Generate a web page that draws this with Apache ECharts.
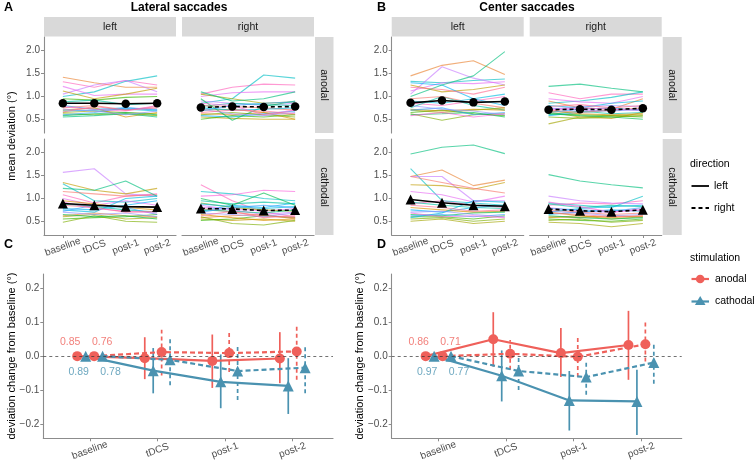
<!DOCTYPE html>
<html><head><meta charset="utf-8">
<script src="https://cdn.jsdelivr.net/npm/echarts@6/dist/echarts.min.js"></script>
<style>html,body{margin:0;padding:0;background:#fff}#c{width:755px;height:469px}</style>
</head><body><div id="c"></div>
<script>
// ---------- DATA ----------
const categories = ['baseline', 'tDCS', 'post-1', 'post-2'];
const subjectColors = ['#EA8331','#FF62BC','#00BFC4','#C77CFF','#E76BF3','#C09B00','#39B600','#00C1A3','#00B0F6','#F8766D',
  '#D89000','#A3A500','#7CAE00','#00BB4E','#00BF7D','#00BAE0','#35A2FF','#9590FF','#FA62DB','#FF6C91'];

// Panel A: lateral saccades, individual subjects (mean deviation, deg)
const latLeftAnodal = [
  [1.42,1.30,1.20,1.20],[1.32,1.20,1.35,1.25],[1.00,1.10,1.33,1.45],[1.05,1.25,1.35,1.10],[1.22,1.02,1.05,1.05],
  [1.12,0.95,1.05,1.18],[0.95,0.92,0.98,1.00],[0.88,0.92,0.82,0.85],[0.80,0.72,0.75,0.70],[0.75,0.80,0.70,0.78],
  [0.70,0.75,0.55,0.65],[0.65,0.68,0.65,0.62],[0.62,0.60,0.62,0.58],[0.58,0.62,0.65,0.60],[0.55,0.58,0.62,0.55],
  [0.68,0.70,0.72,0.68],[0.60,0.65,0.75,0.72],[0.72,0.68,0.60,0.68],[0.78,0.72,0.68,0.80],[0.66,0.78,0.70,0.75]];
const latRightAnodal = [
  [0.62,0.60,0.65,0.60],[1.05,1.20,1.27,1.25],[0.85,0.95,1.47,1.40],[0.90,0.85,0.80,0.85],[1.00,1.08,1.10,1.10],
  [0.55,0.52,0.50,0.50],[0.50,0.58,0.55,0.60],[0.78,0.85,0.82,0.80],[0.58,0.55,0.62,0.68],[0.80,0.78,0.75,0.70],
  [0.70,0.72,0.65,0.50],[1.05,0.95,0.85,0.88],[0.60,0.65,0.60,0.55],[0.95,0.48,0.78,0.90],[1.10,0.90,0.95,1.10],
  [0.75,0.70,0.72,0.75],[0.68,0.80,0.85,0.88],[0.72,0.62,0.58,0.65],[0.85,0.80,0.60,0.70],[0.65,0.70,0.68,0.62]];
const latLeftCathodal = [
  [0.62,0.68,0.62,0.60],[1.08,0.90,1.05,1.10],[1.32,0.95,0.92,1.00],[1.57,1.65,1.10,1.05],[1.00,0.85,0.95,0.85],
  [1.35,1.18,1.10,1.22],[0.55,0.58,0.60,0.65],[0.88,0.82,0.75,0.70],[0.78,0.75,0.85,0.95],[1.15,1.10,1.05,1.08],
  [0.95,0.88,0.80,0.75],[0.60,0.65,0.55,0.58],[0.48,0.62,0.50,0.48],[0.65,0.60,0.62,0.55],[1.22,1.18,1.38,1.05],
  [0.75,0.70,1.00,1.05],[0.72,0.85,0.80,0.65],[0.70,0.65,0.68,0.60],[0.92,0.78,0.72,0.68],[0.85,0.80,0.70,0.72]];
const latRightCathodal = [
  [0.58,0.62,0.65,0.55],[1.30,0.95,0.70,0.60],[1.15,1.10,1.00,0.95],[0.85,0.75,0.65,0.70],[0.80,0.78,0.72,0.78],
  [0.55,0.52,0.55,0.50],[0.52,0.55,0.62,0.58],[0.95,0.88,0.92,0.88],[0.72,0.85,0.80,0.90],[0.78,0.70,0.62,0.58],
  [0.65,0.58,0.52,0.55],[0.90,0.80,0.75,0.72],[0.60,0.45,0.42,0.52],[1.00,0.85,1.12,0.85],[0.75,0.72,0.68,0.75],
  [0.88,0.82,0.78,0.82],[0.70,0.80,0.85,0.80],[0.68,0.65,0.60,0.68],[1.05,1.08,1.18,1.15],[0.62,0.72,0.58,0.62]];
const latLeftAnodalMean = [0.85, 0.85, 0.84, 0.85];
const latRightAnodalMean = [0.76, 0.78, 0.77, 0.78];
const latLeftCathodalMean = [0.89, 0.85, 0.82, 0.81];
const latRightCathodalMean = [0.78, 0.77, 0.735, 0.745];

// Panel B: center saccades, individual subjects
const cenLeftAnodal = [
  [1.45,1.68,1.78,1.48],[0.85,0.80,0.90,1.00],[1.33,1.30,1.35,1.38],[1.05,1.65,1.40,1.25],[1.12,1.30,1.28,1.32],
  [1.25,1.10,1.15,1.25],[0.65,0.70,0.62,0.58],[0.75,1.00,0.80,0.70],[1.30,1.25,0.95,0.80],[0.95,1.00,0.85,0.75],
  [0.72,0.68,0.72,0.70],[0.70,0.65,0.70,0.75],[0.62,0.48,0.60,0.62],[0.60,0.62,0.65,0.55],[1.00,1.25,1.45,1.98],
  [0.90,0.85,0.95,1.05],[0.70,0.75,0.60,0.65],[0.80,0.72,0.68,0.60],[0.58,0.65,0.55,0.62],[1.20,1.15,1.05,1.20]];
const cenRightAnodal = [
  [0.90,0.75,0.72,0.95],[1.08,0.95,1.05,1.05],[0.85,0.90,0.98,1.10],[0.75,0.70,0.68,0.72],[0.95,0.88,0.85,1.00],
  [0.66,0.55,0.52,0.65],[0.62,0.60,0.58,0.55],[0.60,0.68,0.62,0.65],[0.58,0.65,0.70,0.72],[0.70,0.65,0.70,0.75],
  [0.68,0.62,0.60,0.62],[0.40,0.55,0.58,0.60],[0.55,0.52,0.55,0.58],[0.62,0.58,0.55,0.50],[1.22,1.27,1.18,1.10],
  [0.80,0.75,0.85,0.90],[0.65,0.72,0.75,0.68],[0.72,0.78,0.80,0.78],[0.70,0.75,0.72,0.70],[0.78,0.82,0.75,0.80]];
const cenLeftCathodal = [
  [1.48,1.62,1.28,1.40],[0.88,0.95,0.85,0.80],[1.65,0.95,0.90,0.85],[1.48,1.48,0.95,0.95],[1.15,1.08,0.92,1.05],
  [1.30,1.28,1.20,1.35],[0.60,0.60,0.55,0.62],[0.92,0.85,0.80,0.78],[0.75,0.70,0.80,0.85],[1.48,1.35,1.22,1.12],
  [0.80,0.75,0.70,0.72],[0.50,0.55,0.45,0.50],[0.55,0.58,0.50,0.55],[0.65,0.62,0.68,0.70],[1.97,2.12,2.17,1.98],
  [0.58,0.68,0.95,0.92],[0.62,0.65,0.60,0.65],[0.70,0.72,0.65,0.60],[0.68,0.60,0.62,0.58],[0.85,0.80,0.72,0.75]];
const cenRightCathodal = [
  [0.60,0.58,0.62,0.60],[0.85,0.90,0.88,0.95],[0.90,0.85,0.80,1.05],[1.05,0.95,0.90,0.88],[0.80,0.72,0.70,0.78],
  [0.58,0.62,0.55,0.60],[0.55,0.52,0.50,0.55],[0.88,0.80,0.85,0.82],[0.65,0.70,0.75,0.72],[0.75,0.70,0.65,0.68],
  [0.70,0.62,0.58,0.62],[0.48,0.45,0.38,0.45],[0.52,0.55,0.48,0.52],[0.62,0.58,0.55,0.58],[1.52,1.38,1.30,1.23],
  [0.70,0.78,0.82,0.85],[0.78,0.75,0.72,0.80],[0.72,0.68,0.62,0.65],[0.92,0.82,0.70,0.75],[0.68,0.65,0.60,0.62]];
const cenLeftAnodalMean = [0.86, 0.91, 0.87, 0.89];
const cenRightAnodalMean = [0.71, 0.72, 0.71, 0.74];
const cenLeftCathodalMean = [0.975, 0.905, 0.85, 0.83];
const cenRightCathodalMean = [0.77, 0.73, 0.71, 0.75];

// Panel C: lateral, change from baseline (mean, low, high)
const latAnLeft = [0, -0.006, -0.014, -0.007];
const latAnLeftLo = [0, -0.068, -0.094, -0.080];
const latAnLeftHi = [0, 0.056, 0.064, 0.071];
const latCaLeft = [0, -0.043, -0.076, -0.088];
const latCaLeftLo = [0, -0.110, -0.154, -0.171];
const latCaLeftHi = [0, 0.024, 0.005, -0.006];
const latAnRight = [0, 0.012, 0.009, 0.014];
const latAnRightLo = [0, -0.057, -0.047, -0.070];
const latAnRightHi = [0, 0.078, 0.073, 0.093];
const latCaRight = [0, -0.011, -0.044, -0.034];
const latCaRightLo = [0, -0.086, -0.130, -0.110];
const latCaRightHi = [0, 0.058, 0.033, 0.033];
const latBaselineLabels = ['0.85', '0.89', '0.76', '0.78'];

// Panel D: center, change from baseline
const cenAnLeft = [0, 0.050, 0.009, 0.033];
const cenAnLeftLo = [0, -0.031, -0.062, -0.070];
const cenAnLeftHi = [0, 0.130, 0.083, 0.134];
const cenCaLeft = [0, -0.058, -0.131, -0.134];
const cenCaLeftLo = [0, -0.134, -0.220, -0.233];
const cenCaLeftHi = [0, 0.017, -0.044, -0.040];
const cenAnRight = [0, 0.007, -0.002, 0.035];
const cenAnRightLo = [0, -0.040, -0.062, -0.016];
const cenAnRightHi = [0, 0.048, 0.060, 0.100];
const cenCaRight = [0, -0.044, -0.062, -0.019];
const cenCaRightLo = [0, -0.100, -0.114, -0.082];
const cenCaRightHi = [0, 0.004, -0.014, 0.038];
const cenBaselineLabels = ['0.86', '0.97', '0.71', '0.77'];

// ---------- CHART ----------
const FONT = '"Liberation Sans", Arial, Helvetica, sans-serif';
const AXC = '#8c8c8c', TXC = '#4d4d4d';
const RED = '#EF605A', BLUE = '#4A92B0';
const grids = [], xAxes = [], yAxes = [], series = [], graphics = [];

function fmtNum(v) {
  const r = Math.round(v * 10) / 10;
  if (r === 0) return '0.0';
  return (r < 0 ? '\u2212' : '') + Math.abs(r).toFixed(1);
}

function addGrid(box, xr, yr, yTicks, showX, showY) {
  const idx = grids.length;
  grids.push({left: box[0], top: box[1], width: box[2], height: box[3]});
  xAxes.push({gridIndex: idx, type: 'value', min: xr[0], max: xr[1], position: 'bottom',
    axisLine: {show: showX, onZero: false, lineStyle: {color: AXC, width: 1.1}},
    axisTick: {show: showX, customValues: [0, 1, 2, 3], length: 3, lineStyle: {color: AXC}},
    axisLabel: {show: showX, customValues: [0, 1, 2, 3], formatter: v => categories[Math.round(v)],
      rotate: 20, align: 'center', verticalAlign: 'middle', margin: 12, color: TXC, fontSize: 10, fontFamily: FONT},
    splitLine: {show: false}});
  yAxes.push({gridIndex: idx, type: 'value', min: yr[0], max: yr[1], position: 'left',
    axisLine: {show: showY, onZero: false, lineStyle: {color: AXC, width: 1.1}},
    axisTick: {show: showY, customValues: yTicks, length: 3, lineStyle: {color: AXC}},
    axisLabel: {show: showY, customValues: yTicks, formatter: fmtNum, margin: 4, color: TXC, fontSize: 10, fontFamily: FONT},
    splitLine: {show: false}});
  return idx;
}

function addFacet(box, showX, showY, rows, mean, sym, dashed) {
  const gi = addGrid(box, [-0.6, 3.6], [0.2, 2.3], [0.5, 1, 1.5, 2], showX, showY);
  rows.forEach((r, k) => series.push({type: 'line', xAxisIndex: gi, yAxisIndex: gi, silent: true,
    data: r.map((v, i) => [i, v]), symbol: 'none', z: 2,
    lineStyle: {color: subjectColors[k % subjectColors.length], width: 1.1, opacity: 0.65}}));
  series.push({type: 'line', xAxisIndex: gi, yAxisIndex: gi, silent: true, z: 5,
    data: mean.map((v, i) => [i, v]), symbol: sym, symbolSize: sym === 'circle' ? 8.5 : 10,
    itemStyle: {color: '#000'}, lineStyle: {color: '#000', width: 1.6, type: dashed ? [4, 3] : 'solid'}});
}

const fw = 132, fh = 96;
// Panel A
addFacet([44, 37, fw, fh], false, true, latLeftAnodal, latLeftAnodalMean, 'circle', false);
addFacet([182, 37, fw, fh], false, false, latRightAnodal, latRightAnodalMean, 'circle', true);
addFacet([44, 139, fw, fh], true, true, latLeftCathodal, latLeftCathodalMean, 'triangle', false);
addFacet([182, 139, fw, fh], true, false, latRightCathodal, latRightCathodalMean, 'triangle', true);
// Panel B
addFacet([391.7, 37, fw, fh], false, true, cenLeftAnodal, cenLeftAnodalMean, 'circle', false);
addFacet([529.7, 37, fw, fh], false, false, cenRightAnodal, cenRightAnodalMean, 'circle', true);
addFacet([391.7, 139, fw, fh], true, true, cenLeftCathodal, cenLeftCathodalMean, 'triangle', false);
addFacet([529.7, 139, fw, fh], true, false, cenRightCathodal, cenRightCathodalMean, 'triangle', true);

function addChange(gi, vals, lo, hi, off, color, sym, dashed) {
  series.push({type: 'custom', xAxisIndex: gi, yAxisIndex: gi, silent: true, z: 3,
    data: vals.map((v, i) => [i + off, lo[i], hi[i]]),
    renderItem: (p, api) => {
      const a = api.coord([api.value(0), api.value(1)]);
      const b = api.coord([api.value(0), api.value(2)]);
      return {type: 'line', shape: {x1: a[0], y1: a[1], x2: b[0], y2: b[1]},
        style: {stroke: color, lineWidth: 1.7, lineDash: dashed ? [4, 3] : null}};
    }});
  series.push({type: 'line', xAxisIndex: gi, yAxisIndex: gi, silent: true, z: 4,
    data: vals.map((v, i) => [i + off, v]), symbol: sym, symbolSize: sym === 'circle' ? 10 : 11,
    itemStyle: {color: color}, lineStyle: {color: color, width: 2.2, type: dashed ? [5, 3] : 'solid'}});
}

function addChangePanel(box, groups, labels) {
  const gi = addGrid(box, [-0.69, 3.6], [-0.243, 0.243], [-0.2, -0.1, 0, 0.1, 0.2], true, true);
  series.push({type: 'line', xAxisIndex: gi, yAxisIndex: gi, silent: true, z: 1, data: [], symbol: 'none',
    markLine: {silent: true, symbol: 'none', label: {show: false}, animation: false,
      lineStyle: {color: '#333', type: [3, 3], width: 0.7}, data: [{yAxis: 0}]}});
  const offs = [-0.1875, -0.0625, 0.0625, 0.1875];
  const cols = [RED, BLUE, RED, BLUE];
  const syms = ['circle', 'triangle', 'circle', 'triangle'];
  const dash = [false, false, true, true];
  groups.forEach((g, k) => addChange(gi, g[0], g[1], g[2], offs[k], cols[k], syms[k], dash[k]));
  const lOff = [[-7, -14], [-7, 16], [8, -14], [8, 16]];
  series.push({type: 'scatter', xAxisIndex: gi, yAxisIndex: gi, silent: true, z: 6, symbolSize: 1,
    itemStyle: {color: 'rgba(0,0,0,0)'},
    data: labels.map((t, k) => ({value: [offs[k], 0],
      label: {show: true, position: 'inside', offset: lOff[k], formatter: t, color: cols[k], fontSize: 10.5, fontFamily: FONT}}))});
}

addChangePanel([43.3, 274, 289.7, 164.3], [
  [latAnLeft, latAnLeftLo, latAnLeftHi], [latCaLeft, latCaLeftLo, latCaLeftHi],
  [latAnRight, latAnRightLo, latAnRightHi], [latCaRight, latCaRightLo, latCaRightHi]], latBaselineLabels);
addChangePanel([391.7, 274, 290, 164.3], [
  [cenAnLeft, cenAnLeftLo, cenAnLeftHi], [cenCaLeft, cenCaLeftLo, cenCaLeftHi],
  [cenAnRight, cenAnRightLo, cenAnRightHi], [cenCaRight, cenCaRightLo, cenCaRightHi]], cenBaselineLabels);

// ---------- GRAPHICS: strips, titles, legend ----------
const STRIP = '#D9D9D9', STXT = '#1a1a1a';
function txt(x, y, s, o) {
  graphics.push(Object.assign({type: 'text', x: x, y: y, silent: true,
    style: Object.assign({text: s, fill: STXT, font: '10.5px ' + FONT, textAlign: 'center', textVerticalAlign: 'middle'}, (o && o.style) || {})},
    o && o.rotation !== undefined ? {rotation: o.rotation} : {}));
}
function rect(x, y, w, h) {
  graphics.push({type: 'rect', silent: true, shape: {x: x, y: y, width: w, height: h}, style: {fill: STRIP}});
}
function strips(lx, rx, sx, sw) {
  rect(lx, 17, fw, 19.5); txt(lx + fw / 2, 27, 'left');
  rect(rx, 17, fw, 19.5); txt(rx + fw / 2, 27, 'right');
  rect(sx, 37, sw, fh); txt(sx + sw / 2, 37 + fh / 2, 'anodal', {rotation: -Math.PI / 2});
  rect(sx, 139, sw, fh); txt(sx + sw / 2, 139 + fh / 2, 'cathodal', {rotation: -Math.PI / 2});
}
strips(44, 182, 315, 18.5);
strips(391.7, 529.7, 662.7, 19);

const bold = {style: {font: 'bold 12px ' + FONT, fill: '#000'}};
txt(179, 8, 'Lateral saccades', bold);
txt(527, 8, 'Center saccades', bold);
const letter = {style: {font: 'bold 12.5px ' + FONT, fill: '#000', textAlign: 'left'}};
txt(4, 8, 'A', letter);
txt(377, 8, 'B', letter);
txt(4, 245, 'C', letter);
txt(377, 245, 'D', letter);

const ytitle = {rotation: Math.PI / 2, style: {font: '11px ' + FONT, fill: '#000'}};
txt(12, 136, 'mean deviation (\u00b0)', ytitle);
txt(12, 356, 'deviation change from baseline (\u00b0)', ytitle);
txt(360, 356, 'deviation change from baseline (\u00b0)', ytitle);

// legend
const lt = {style: {font: '10.5px ' + FONT, fill: '#000', textAlign: 'left'}};
txt(690, 164, 'direction', lt);
graphics.push({type: 'line', silent: true, shape: {x1: 691.5, y1: 186, x2: 709, y2: 186}, style: {stroke: '#000', lineWidth: 1.8}});
txt(714, 186, 'left', lt);
graphics.push({type: 'line', silent: true, shape: {x1: 691.5, y1: 208, x2: 709, y2: 208}, style: {stroke: '#000', lineWidth: 1.8, lineDash: [4, 3]}});
txt(714, 208, 'right', lt);
txt(690, 258, 'stimulation', lt);
graphics.push({type: 'line', silent: true, shape: {x1: 691.5, y1: 279, x2: 709, y2: 279}, style: {stroke: RED, lineWidth: 2.2}});
graphics.push({type: 'circle', silent: true, shape: {cx: 700.2, cy: 279, r: 4.3}, style: {fill: RED}});
txt(715, 279, 'anodal', lt);
graphics.push({type: 'line', silent: true, shape: {x1: 691.5, y1: 301.5, x2: 709, y2: 301.5}, style: {stroke: BLUE, lineWidth: 2.2}});
graphics.push({type: 'polygon', silent: true, shape: {points: [[700.2, 296], [705.5, 305], [694.9, 305]]}, style: {fill: BLUE}});
txt(715, 301.5, 'cathodal', lt);

const chart = echarts.init(document.getElementById('c'), null, {renderer: 'canvas'});
chart.setOption({
  animation: false,
  backgroundColor: '#fff',
  grid: grids, xAxis: xAxes, yAxis: yAxes, series: series,
  graphic: {elements: graphics}
});
</script>
</body></html>
